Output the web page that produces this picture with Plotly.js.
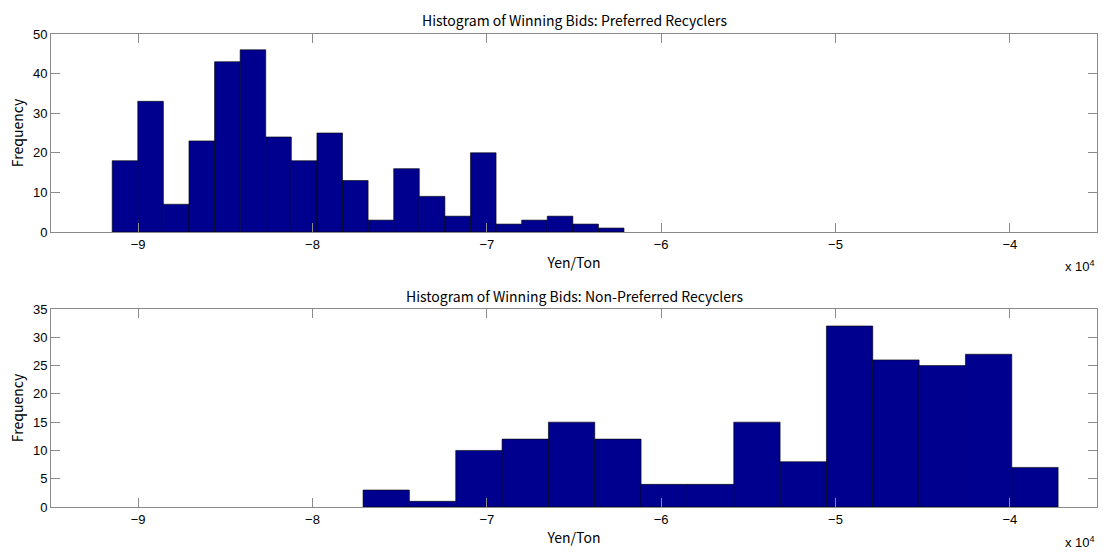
<!DOCTYPE html>
<html>
<head>
<meta charset="utf-8">
<script src="https://cdn.plot.ly/plotly-3.0.1.min.js"></script>
<style>html,body{margin:0;padding:0;background:#fff;}#chart{width:1103px;height:554px;}</style>
</head>
<body>
<div id="chart"></div>
<script>
// Bin centers (Yen/Ton) and counts
const preferredCenters = [-90756, -89288, -87820, -86352, -84884, -83416, -81948, -80480, -79012, -77544,
                          -76076, -74608, -73140, -71672, -70204, -68736, -67268, -65800, -64332, -62864];
const preferredCounts  = [18, 33, 7, 23, 43, 46, 24, 18, 25, 13, 3, 16, 9, 4, 20, 2, 3, 4, 2, 1];
const preferredWidth = 1468;

const nonPreferredCenters = [-75771, -73113, -70455, -67797, -65139, -62481, -59823, -57165, -54507, -51849,
                             -49191, -46533, -43875, -41217, -38559];
const nonPreferredCounts  = [3, 1, 10, 12, 15, 12, 4, 4, 15, 8, 32, 26, 25, 27, 7];
const nonPreferredWidth = 2658;

const xTickVals = [-90000, -80000, -70000, -60000, -50000, -40000];
const xTickText = ['\u22129', '\u22128', '\u22127', '\u22126', '\u22125', '\u22124'];
const yTopTicks = [0, 10, 20, 30, 40, 50];
const yBottomTicks = [0, 5, 10, 15, 20, 25, 30, 35];

const titleTop = 'Histogram of Winning Bids: Preferred Recyclers';
const titleBottom = 'Histogram of Winning Bids: Non-Preferred Recyclers';

const barColor = '#00008F';
const axisColor = '#8a8a8a';
const tickFont = {family: 'Liberation Sans', size: 13, color: '#000'};
const jpFont = {family: 'Noto Sans CJK JP', size: 14, color: '#000'};

const traces = [
  {type: 'bar', x: preferredCenters, y: preferredCounts,
   width: preferredCenters.map(() => preferredWidth),
   marker: {color: barColor, line: {color: '#000', width: 0.6}},
   xaxis: 'x', yaxis: 'y', hoverinfo: 'x+y'},
  {type: 'bar', x: nonPreferredCenters, y: nonPreferredCounts,
   width: nonPreferredCenters.map(() => nonPreferredWidth),
   marker: {color: barColor, line: {color: '#000', width: 0.6}},
   xaxis: 'x2', yaxis: 'y2', hoverinfo: 'x+y'}
];

function xAxis(anchor) {
  return {
    range: [-95000, -35000], anchor: anchor,
    tickvals: xTickVals, ticktext: xTickText,
    ticks: 'inside', ticklen: 9, tickcolor: axisColor, tickwidth: 1,
    showline: true, linecolor: axisColor, linewidth: 1, mirror: 'ticks',
    showgrid: false, zeroline: false, tickfont: tickFont,
    title: {text: 'Yen/Ton', font: jpFont, standoff: 7}
  };
}
function yAxis(anchor, domain, range, ticks) {
  return {
    domain: domain, anchor: anchor, range: range,
    tickvals: ticks,
    ticks: 'inside', ticklen: 9, tickcolor: axisColor, tickwidth: 1,
    showline: true, linecolor: axisColor, linewidth: 1, mirror: 'ticks',
    showgrid: false, zeroline: false, tickfont: tickFont,
    title: {text: 'Frequency', font: jpFont, standoff: 6}
  };
}

const layout = {
  width: 1103, height: 554,
  margin: {l: 51, r: 6, t: 34, b: 47},
  paper_bgcolor: '#fff', plot_bgcolor: '#fff',
  showlegend: false, bargap: 0,
  xaxis: xAxis('y'),
  yaxis: yAxis('x', [0.5814, 1], [0, 50], yTopTicks),
  xaxis2: xAxis('y2'),
  yaxis2: yAxis('x2', [0, 0.4186], [0, 35], yBottomTicks),
  annotations: [
    {text: titleTop, xref: 'paper', yref: 'paper', x: 0.5, y: 1, yshift: 14,
     showarrow: false, font: jpFont, xanchor: 'center', yanchor: 'middle'},
    {text: titleBottom, xref: 'paper', yref: 'paper', x: 0.5, y: 0.4186, yshift: 13,
     showarrow: false, font: jpFont, xanchor: 'center', yanchor: 'middle'},
    {text: 'x 10<sup>4</sup>', xref: 'paper', yref: 'paper', x: 1, y: 0.5814, yshift: -34,
     showarrow: false, font: tickFont, xanchor: 'right', yanchor: 'middle'},
    {text: 'x 10<sup>4</sup>', xref: 'paper', yref: 'paper', x: 1, y: 0, yshift: -35,
     showarrow: false, font: tickFont, xanchor: 'right', yanchor: 'middle'}
  ]
};

Plotly.newPlot('chart', traces, layout, {displayModeBar: false, staticPlot: true});
</script>
</body>
</html>
